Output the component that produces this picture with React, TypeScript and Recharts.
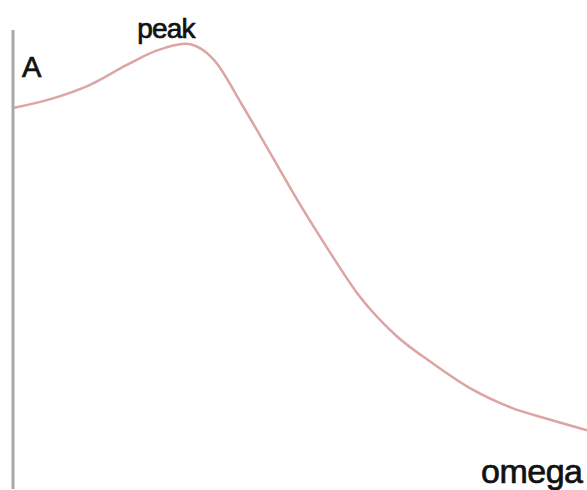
import { LineChart, Line, XAxis, YAxis, ReferenceDot, Label } from 'recharts';

// driving frequency (omega) and amplitude (A)
const omega = [0, 0.2, 0.4, 0.6, 0.75, 0.9, 1.05, 1.2, 1.35, 1.5, 1.65, 1.8, 2.0, 2.2, 2.4, 2.6, 2.8, 3.0];
const amplitude = [0.83, 0.85, 0.88, 0.925, 0.955, 0.97, 0.935, 0.835, 0.728, 0.62, 0.52, 0.426, 0.335, 0.272, 0.217, 0.178, 0.152, 0.128];
const peakOmega = 0.9;
const peakA = 0.97;
const labels = { y: 'A', x: 'omega', peak: 'peak' };

const data = omega.map((w, i) => ({ w, a: amplitude[i] }));

const FONT = '"Liberation Sans", Arial, sans-serif';
const textStyle = { fontFamily: FONT, fill: '#111', stroke: '#111', strokeWidth: 0.7 };

export default function App() {
  return (
    <div style={{ position: 'absolute', left: 0, top: 0, width: 587, height: 490, background: '#fff' }}>
      <LineChart width={587} height={490} data={data} margin={{ top: 30, right: 0, bottom: 0, left: 12 }}>
        <XAxis
          dataKey="w"
          type="number"
          domain={[0, 3]}
          height={1}
          axisLine={false}
          tickLine={false}
          tick={false}
        />
        <YAxis
          type="number"
          domain={[0, 1]}
          width={1}
          tick={false}
          tickLine={false}
          axisLine={{ stroke: '#a8a8a8', strokeWidth: 3 }}
        />
        <Line
          type="monotone"
          dataKey="a"
          stroke="#dea4a4"
          strokeWidth={2.5}
          dot={false}
          isAnimationActive={false}
        />
        <ReferenceDot x={peakOmega} y={peakA} r={0} stroke="none" fill="none">
          <Label
            content={({ viewBox }: any) => (
              <text x={viewBox.x - 48} y={viewBox.y - 6} fontSize={28} letterSpacing={-0.8} {...textStyle}>
                {labels.peak}
              </text>
            )}
          />
        </ReferenceDot>
        <ReferenceDot x={0} y={1} r={0} stroke="none" fill="none">
          <Label
            content={({ viewBox }: any) => (
              <text x={viewBox.x + 9} y={viewBox.y + 47} fontSize={29} {...textStyle}>
                {labels.y}
              </text>
            )}
          />
        </ReferenceDot>
        <ReferenceDot x={3} y={0} r={0} stroke="none" fill="none">
          <Label
            content={({ viewBox }: any) => (
              <text x={viewBox.x - 106} y={viewBox.y - 6} fontSize={34} letterSpacing={-0.5} {...textStyle}>
                {labels.x}
              </text>
            )}
          />
        </ReferenceDot>
      </LineChart>
    </div>
  );
}
